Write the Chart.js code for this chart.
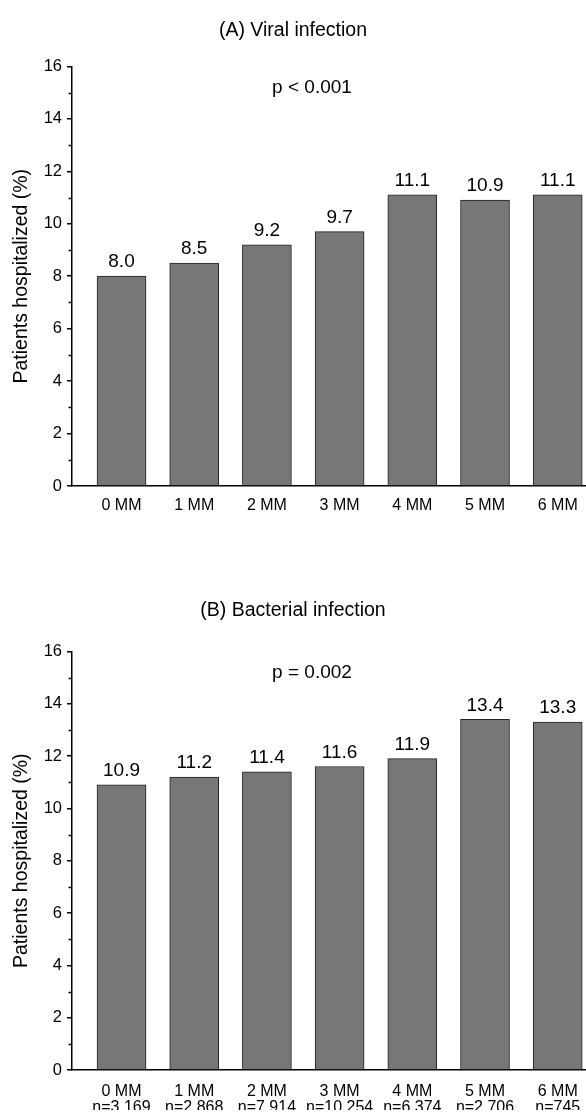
<!DOCTYPE html>
<html>
<head>
<meta charset="utf-8">
<script src="https://cdn.jsdelivr.net/npm/chart.js@4.4.1/dist/chart.umd.min.js"></script>
<style>
  html, body { margin: 0; padding: 0; background: #fff; overflow: hidden; }
  #wrap { position: relative; width: 586px; height: 1116px; }
  canvas { position: absolute; left: 0; }
  #cA { top: 0; }
  #cB { top: 560px; }
</style>
</head>
<body>
<div id="wrap">
  <canvas id="cA" width="586" height="540"></canvas>
  <canvas id="cB" width="586" height="556"></canvas>
</div>
<script>
// ---- data ----
const categories = ['0 MM', '1 MM', '2 MM', '3 MM', '4 MM', '5 MM', '6 MM'];
const sampleSizes = ['n=3,169', 'n=2,868', 'n=7,914', 'n=10,254', 'n=6,374', 'n=2,706', 'n=745'];
const viralValues = [8.0, 8.5, 9.2, 9.7, 11.1, 10.9, 11.1];
const bacterialValues = [10.9, 11.2, 11.4, 11.6, 11.9, 13.4, 13.3];
const yMin = 0, yMax = 16, yStep = 2, yMinorStep = 1;
const titleA = '(A) Viral infection';
const titleB = '(B) Bacterial infection';
const pTextA = 'p < 0.001';
const pTextB = 'p = 0.002';
const yAxisTitle = 'Patients hospitalized (%)';
// annotation anchor in data units (category index, y value)
const pAnchor = { x: 2.62, y: 15.2 };

Chart.defaults.font.family = '"Liberation Sans", Arial, Helvetica, sans-serif';
Chart.defaults.color = '#000';

const annotPlugin = {
  id: 'annot',
  afterDatasetsDraw(chart, args, opts) {
    const ctx = chart.ctx;
    const xs = chart.scales.x, ys = chart.scales.y;
    ctx.save();
    ctx.fillStyle = '#000';
    ctx.font = '19px "Liberation Sans", Arial, sans-serif';
    ctx.textAlign = 'center';
    ctx.textBaseline = 'middle';
    const meta = chart.getDatasetMeta(0);
    const vals = chart.data.datasets[0].data;
    meta.data.forEach((el, i) => {
      ctx.fillText(vals[i].y.toFixed(1), el.x, el.y - 14);
    });
    ctx.fillText(opts.pText, xs.getPixelForValue(pAnchor.x), ys.getPixelForValue(pAnchor.y));
    // minor ticks
    ctx.strokeStyle = '#000';
    ctx.lineWidth = 1.5;
    const left = chart.chartArea.left;
    for (let v = yMin + yMinorStep; v < yMax; v += yStep) {
      const py = Math.round(ys.getPixelForValue(v)) + 0.5;
      ctx.beginPath();
      ctx.moveTo(left - 3.5, py);
      ctx.lineTo(left, py);
      ctx.stroke();
    }
    ctx.restore();
  }
};

function makeChart(id, values, title, pText, twoLine, pad) {
  return new Chart(document.getElementById(id), {
    type: 'bar',
    data: {
      datasets: [{
        data: values.map((v, i) => ({ x: i, y: v })),
        backgroundColor: '#777777',
        borderColor: '#222222',
        borderWidth: 1,
        barThickness: 49
      }]
    },
    plugins: [annotPlugin],
    options: {
      responsive: false,
      animation: false,
      layout: { padding: { top: 0, left: 0, right: 0, bottom: pad.bottom } },
      plugins: {
        legend: { display: false },
        tooltip: { enabled: false },
        annot: { pText: pText },
        title: {
          display: true,
          text: title,
          font: { size: 19.5, weight: 'normal' },
          color: '#000',
          padding: { top: pad.titleTop, bottom: pad.titleBottom }
        }
      },
      scales: {
        x: {
          type: 'linear',
          min: -0.681,
          max: 6.389,
          offset: false,
          grid: { display: false },
          border: { display: true, color: '#000', width: 1.5 },
          afterBuildTicks: (s) => { s.ticks = categories.map((_, i) => ({ value: i })); },
          afterFit: (s) => { s.height = 40; s.paddingLeft = 0; s.paddingRight = 0; },
          ticks: {
            autoSkip: false,
            maxRotation: 0,
            padding: pad.xTickPad,
            font: { size: 16, lineHeight: 1.0 },
            callback: (v) => twoLine ? [categories[v], sampleSizes[v]] : categories[v]
          }
        },
        y: {
          min: yMin,
          max: yMax,
          grid: { display: true, drawOnChartArea: false, drawTicks: true, tickLength: 5, color: '#000', lineWidth: 1.5 },
          border: { display: true, color: '#000', width: 1.5 },
          afterFit: (s) => { s.width = 72; },
          ticks: { stepSize: yStep, padding: 5, font: { size: 16.5 } },
          title: {
            display: true,
            text: yAxisTitle,
            font: { size: 19.5 },
            padding: { top: 10, bottom: 0 }
          }
        }
      }
    }
  });
}

makeChart('cA', viralValues, titleA, pTextA, false, { bottom: 14, titleTop: 19, titleBottom: 24, xTickPad: 4 });
makeChart('cB', bacterialValues, titleB, pTextB, true, { bottom: 6, titleTop: 39, titleBottom: 29, xTickPad: 6 });
</script>
</body>
</html>
